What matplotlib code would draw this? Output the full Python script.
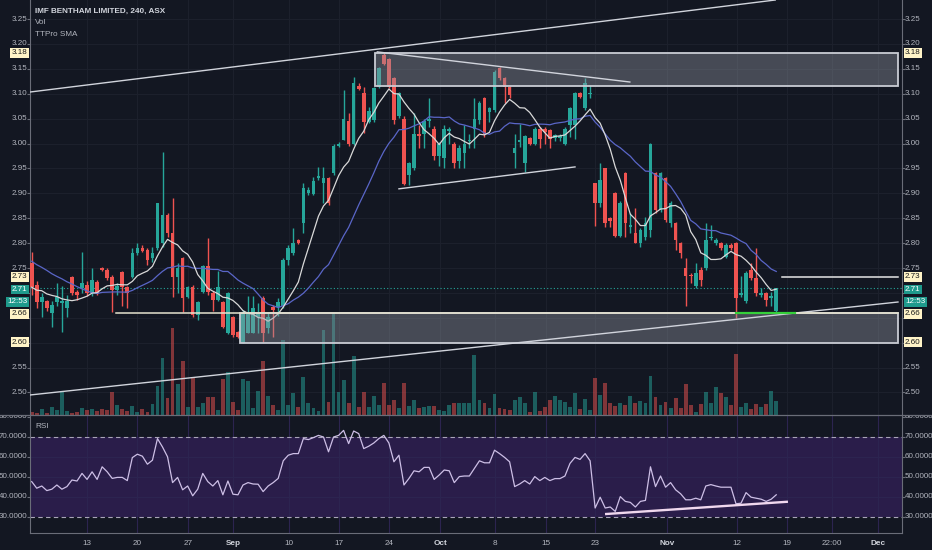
import numpy as np
import matplotlib
matplotlib.use("Agg")
import matplotlib.pyplot as plt
from matplotlib.patches import Rectangle
from matplotlib.lines import Line2D
from matplotlib.transforms import Bbox, TransformedBbox

plt.rcParams['font.family'] = ['Liberation Sans', 'DejaVu Sans']

# ---------------- data ----------------
opens = [2.761, 2.716, 2.681, 2.683, 2.660, 2.681, 2.680, 2.669, 2.731, 2.701,
         2.709, 2.716, 2.699, 2.721, 2.750, 2.746, 2.731, 2.705, 2.741, 2.712,
         2.731, 2.780, 2.790, 2.786, 2.770, 2.790, 2.800, 2.856, 2.821, 2.731,
         2.770, 2.691, 2.711, 2.656, 2.701, 2.754, 2.699, 2.685, 2.681, 2.620,
         2.651, 2.622, 2.600, 2.620, 2.620, 2.651, 2.689, 2.629, 2.671, 2.671,
         2.673, 2.766, 2.781, 2.806, 2.840, 2.900, 2.899, 2.930, 2.920, 2.930,
         2.940, 2.995, 3.008, 3.046, 2.999, 3.116, 3.101, 3.044, 3.047, 3.114,
         3.178, 3.169, 3.131, 3.055, 3.049, 2.937, 2.950, 3.020, 3.019, 3.046,
         3.030, 2.974, 2.970, 3.026, 3.000, 2.964, 2.980, 3.006, 3.030, 3.047,
         3.091, 3.064, 3.067, 3.151, 3.131, 3.114, 2.980, 3.004, 2.960, 3.011,
         3.000, 3.030, 3.030, 3.027, 3.012, 3.012, 3.000, 3.037, 3.037, 3.101,
         3.071, 3.100, 2.920, 2.880, 2.950, 2.850, 2.900, 2.814, 2.940, 2.833,
         2.820, 2.800, 2.813, 2.826, 2.940, 2.866, 2.930, 2.840, 2.840, 2.800,
         2.750, 2.736, 2.713, 2.746, 2.750, 2.810, 2.800, 2.800, 2.773, 2.796,
         2.800, 2.696, 2.683, 2.746, 2.730, 2.696, 2.700, 2.690, 2.663]
highs = [2.783, 2.723, 2.700, 2.686, 2.683, 2.720, 2.713, 2.696, 2.733, 2.706,
         2.783, 2.723, 2.750, 2.726, 2.752, 2.750, 2.736, 2.720, 2.743, 2.713,
         2.790, 2.800, 2.796, 2.790, 2.793, 2.881, 2.983, 2.860, 2.890, 2.760,
         2.773, 2.713, 2.716, 2.683, 2.756, 2.810, 2.703, 2.743, 2.683, 2.701,
         2.653, 2.624, 2.666, 2.693, 2.693, 2.679, 2.693, 2.659, 2.676, 2.690,
         2.770, 2.796, 2.830, 2.808, 2.920, 2.913, 2.933, 2.953, 2.953, 2.933,
         3.000, 3.003, 3.108, 3.061, 3.134, 3.121, 3.114, 3.074, 3.114, 3.154,
         3.181, 3.171, 3.134, 3.104, 3.055, 2.963, 3.061, 3.037, 3.049, 3.091,
         3.036, 3.004, 3.037, 3.034, 3.004, 2.997, 3.037, 3.020, 3.091, 3.085,
         3.093, 3.074, 3.148, 3.153, 3.133, 3.116, 3.020, 3.040, 3.017, 3.014,
         3.034, 3.034, 3.033, 3.030, 3.020, 3.020, 3.034, 3.074, 3.104, 3.103,
         3.131, 3.117, 2.920, 2.960, 2.951, 2.853, 2.903, 2.885, 2.943, 2.860,
         2.870, 2.830, 2.853, 3.001, 2.943, 2.943, 2.933, 2.884, 2.843, 2.803,
         2.770, 2.740, 2.760, 2.753, 2.840, 2.836, 2.810, 2.803, 2.800, 2.800,
         2.803, 2.733, 2.743, 2.760, 2.790, 2.709, 2.702, 2.702, 2.710]
lows = [2.696, 2.669, 2.651, 2.663, 2.632, 2.673, 2.622, 2.651, 2.696, 2.686,
        2.700, 2.693, 2.693, 2.696, 2.743, 2.726, 2.662, 2.696, 2.673, 2.669,
        2.729, 2.776, 2.783, 2.756, 2.763, 2.786, 2.793, 2.813, 2.691, 2.699,
        2.662, 2.689, 2.652, 2.646, 2.700, 2.696, 2.663, 2.683, 2.629, 2.618,
        2.612, 2.609, 2.599, 2.619, 2.619, 2.619, 2.602, 2.619, 2.612, 2.653,
        2.669, 2.756, 2.776, 2.798, 2.820, 2.897, 2.897, 2.927, 2.880, 2.877,
        2.937, 2.993, 3.007, 2.994, 2.997, 3.107, 3.021, 3.041, 3.044, 3.111,
        3.158, 3.111, 3.040, 3.051, 2.917, 2.917, 2.947, 2.990, 2.990, 3.033,
        2.967, 2.954, 2.950, 3.000, 2.950, 2.950, 2.950, 2.990, 2.990, 3.040,
        3.014, 3.044, 3.064, 3.128, 3.081, 3.091, 2.950, 2.992, 2.943, 2.997,
        2.997, 2.990, 3.000, 2.990, 3.006, 3.005, 2.997, 3.014, 3.010, 3.091,
        3.067, 3.091, 2.835, 2.873, 2.833, 2.833, 2.813, 2.813, 2.813, 2.820,
        2.800, 2.793, 2.806, 2.813, 2.860, 2.863, 2.843, 2.833, 2.786, 2.770,
        2.673, 2.720, 2.709, 2.713, 2.746, 2.806, 2.796, 2.787, 2.770, 2.786,
        2.649, 2.692, 2.679, 2.726, 2.693, 2.692, 2.673, 2.673, 2.661]
closes = [2.712, 2.681, 2.692, 2.669, 2.676, 2.692, 2.683, 2.683, 2.699, 2.696,
          2.719, 2.699, 2.726, 2.699, 2.745, 2.730, 2.706, 2.713, 2.712, 2.699,
          2.781, 2.790, 2.785, 2.766, 2.781, 2.881, 2.856, 2.820, 2.731, 2.751,
          2.689, 2.711, 2.656, 2.681, 2.754, 2.701, 2.685, 2.711, 2.632, 2.699,
          2.616, 2.611, 2.659, 2.659, 2.669, 2.660, 2.620, 2.651, 2.666, 2.681,
          2.766, 2.790, 2.800, 2.800, 2.910, 2.907, 2.925, 2.935, 2.930, 2.880,
          2.995, 3.000, 3.049, 2.999, 3.121, 3.109, 3.044, 3.066, 3.111, 3.151,
          3.160, 3.114, 3.047, 3.101, 2.919, 2.960, 3.019, 3.015, 3.046, 3.049,
          2.974, 3.000, 3.030, 3.030, 2.960, 2.990, 3.000, 3.008, 3.050, 3.081,
          3.020, 3.071, 3.144, 3.131, 3.114, 3.097, 2.990, 3.008, 3.015, 3.000,
          3.030, 3.010, 3.024, 3.010, 3.017, 3.016, 3.030, 3.071, 3.101, 3.094,
          3.121, 3.102, 2.880, 2.927, 2.840, 2.845, 2.814, 2.881, 2.840, 2.836,
          2.800, 2.826, 2.840, 3.000, 2.866, 2.940, 2.846, 2.880, 2.806, 2.780,
          2.733, 2.733, 2.740, 2.726, 2.806, 2.813, 2.806, 2.790, 2.796, 2.790,
          2.689, 2.700, 2.740, 2.730, 2.700, 2.700, 2.686, 2.694, 2.710]
volumes = [3, 2, 6, 2, 8, 5, 24, 4, 2, 3,
           7, 5, 6, 4, 6, 5, 23, 10, 6, 4,
           9, 3, 6, 3, 11, 29, 57, 17, 87, 31,
           54, 8, 37, 8, 12, 18, 18, 5, 36, 43,
           13, 5, 36, 34, 7, 24, 54, 19, 10, 5,
           75, 10, 22, 8, 38, 12, 7, 4, 85, 13,
           101, 23, 35, 12, 59, 8, 23, 8, 19, 10,
           32, 10, 15, 7, 32, 9, 15, 7, 8, 9,
           9, 5, 4, 10, 12, 12, 12, 12, 60, 15,
           12, 7, 21, 7, 6, 5, 15, 18, 12, 3,
           23, 4, 8, 15, 19, 15, 13, 8, 22, 6,
           16, 5, 37, 20, 32, 12, 9, 12, 10, 19,
           12, 14, 12, 39, 18, 10, 13, 7, 17, 7,
           31, 10, 3, 11, 23, 12, 28, 22, 18, 10,
           61, 8, 12, 6, 11, 8, 11, 24, 14]
rsi = [47.7, 44.4, 45.5, 43.2, 43.9, 46.0, 43.9, 45.2, 48.5, 48.0,
       51.8, 48.8, 52.6, 48.8, 55.1, 52.6, 49.3, 49.8, 49.8, 48.2,
       59.7, 61.4, 60.4, 56.4, 58.4, 69.2, 65.0, 60.1, 47.2, 49.8,
       43.6, 45.5, 40.6, 43.9, 51.8, 47.7, 45.5, 48.2, 41.1, 48.0,
       41.4, 41.1, 46.0, 47.2, 46.5, 46.4, 42.7, 45.5, 47.2, 49.3,
       58.1, 60.9, 61.7, 61.7, 69.2, 68.7, 69.7, 70.8, 70.0, 62.6,
       70.0, 70.8, 73.3, 66.7, 73.0, 71.7, 64.2, 65.4, 67.0, 69.2,
       70.8, 67.0, 57.6, 60.9, 46.0, 49.3, 53.1, 52.6, 54.8, 54.8,
       48.8, 51.0, 53.5, 53.1, 47.2, 50.2, 50.5, 50.5, 54.3, 58.1,
       57.1, 57.1, 63.4, 61.7, 59.8, 57.6, 45.2, 46.5, 48.2, 46.5,
       50.2, 48.2, 49.8, 48.2, 49.2, 49.2, 50.5, 56.8, 59.8, 58.8,
       61.7, 58.1, 34.5, 39.9, 34.5, 35.0, 32.8, 40.2, 37.8, 37.3,
       35.0, 37.8, 38.3, 55.1, 45.2, 50.5, 44.9, 47.2, 43.6, 41.6,
       38.6, 38.6, 39.4, 38.6, 45.5, 46.2, 45.5, 44.9, 44.9, 44.9,
       36.6, 36.9, 42.2, 39.9, 39.4, 38.9, 37.8, 38.9, 41.1]
# closes before the visible window (estimated from where the averages start)
prior_closes = [2.82, 2.80, 2.79, 2.81, 2.80, 2.78, 2.80, 2.79, 2.80, 2.81,
                2.78, 2.80, 2.73, 2.70, 2.72, 2.70, 2.71, 2.72, 2.70]

price_ticks = [2.50, 2.55, 2.60, 2.65, 2.70, 2.75, 2.80, 2.85, 2.90,
               2.95, 3.00, 3.05, 3.10, 3.15, 3.20, 3.25]
hidden_ticks = [2.65, 2.70]   # covered by the price boxes
rsi_ticks = [30, 40, 50, 60, 70]
date_labels = ['13', '20', '27', 'Sep', '10', '17', '24', 'Oct', '8', '15',
               '23', 'Nov', '12', '19', '22:00', 'Dec']
date_pos = [11.05, 21.0, 31.1, 40.0, 51.2, 61.1, 71.1, 81.2, 92.1, 102.2,
            112.0, 126.3, 140.2, 150.2, 159.1, 168.3]
month_labels = ['Sep', 'Oct', 'Nov', 'Dec']

box_texts = ['3.18', '2.73', '2.71', '12:53', '2.66', '2.60']
box_prices = [3.182, 2.732, 2.707, 2.682, 2.658, 2.601]
box_kind = ['level', 'level', 'last', 'last', 'level', 'level']

# drawings (bar index, price)
upper_trend = ([-0.34, 147.8], [3.1034, 3.2882])
lower_trend = ([-0.34, 172.2], [2.4950, 2.6817])
desc_line = ([68.7, 118.9], [3.184, 3.1235])
channel_line = ([73.0, 108.0], [2.909, 2.953])
top_zone = (68.3, 172.2, 3.115, 3.182)
bottom_zone = (41.4, 172.2, 2.600, 2.660)
support_line = (16.8, 172.2, 2.660)
green_line = (140.1, 151.8, 2.660)
resist_line = (149.2, 172.2, 2.732)
rsi_trend = ([114.2, 150.1], [31.5, 37.6])

# ---------------- style ----------------
BG = '#131722'
GRID = '#1c202c'
TXT = '#b2b5be'
UP = '#26a69a'
DN = '#ef5350'
BORDER = '#6a6d78'
CREAM = '#fff4c8'

FW, FH = 932.0, 550.0
L, R = 30, 902
fig = plt.figure(figsize=(FW / 100, FH / 100), dpi=100)
fig.patch.set_facecolor(BG)

ax = fig.add_axes([L / FW, 1 - 415 / FH, (R - L) / FW, 415 / FH])
rx = fig.add_axes([L / FW, 1 - 533 / FH, (R - L) / FW, 118 / FH])
XL = (-0.34, 173.0)
for a in (ax, rx):
    a.set_facecolor(BG)
    a.set_xlim(*XL)
    a.set_xticks([])
    for s in a.spines.values():
        s.set_visible(False)
ax.set_ylim(2.4548, 3.2882)
rx.set_ylim(22, 81)

o = np.array(opens); h = np.array(highs); lo = np.array(lows); c = np.array(closes)
x = np.arange(len(c))
up = c >= o
cols = np.where(up, UP, DN)

# grid
for d in date_pos:
    ax.axvline(d, color=GRID, lw=0.8, zorder=0)
for p in price_ticks:
    ax.axhline(p, color=GRID, lw=0.8, zorder=0)

# volume (pixels -> price units of the pane)
ybot = ax.get_ylim()[0]
PX_PER_UNIT = 415 / (ax.get_ylim()[1] - ax.get_ylim()[0])
ax.bar(x, np.array(volumes) / PX_PER_UNIT, bottom=ybot, width=0.76,
       color=cols, alpha=0.5, zorder=1, linewidth=0)

# current price line
ax.axhline(c[-1], color=UP, lw=0.8, ls=(0, (1, 2)), zorder=2)

# candles
ax.vlines(x, lo, h, colors=cols, lw=1.0, zorder=3)
ax.bar(x, np.maximum(np.abs(c - o), 0.0016), bottom=np.minimum(o, c),
       width=0.72, color=cols, zorder=4, linewidth=0)

# SMAs
allc = np.array(prior_closes + closes)
def sma(n):
    v = np.convolve(allc, np.ones(n) / n, mode='valid')
    return v[-len(closes):]
ax.plot(x, sma(20), color='#5a66c8', lw=0.9, zorder=5)
ax.plot(x, sma(8), color='#d9d9d9', lw=0.9, zorder=5)

# zones
for (x0, x1, p0, p1) in (top_zone, bottom_zone):
    ax.add_patch(Rectangle((x0, p0), x1 - x0, p1 - p0,
                           facecolor=(0.58, 0.6, 0.64, 0.40),
                           edgecolor='#c9ccd4', lw=1.3, zorder=6))

# trend lines
for xs, ps in (upper_trend, lower_trend, desc_line, channel_line):
    ax.plot(xs, ps, color='#d1d4dc', lw=1.0, zorder=7)
ax.plot([support_line[0], support_line[1]], [support_line[2]] * 2,
        color='#e6e3cf', lw=1.1, zorder=7)
ax.plot([resist_line[0], resist_line[1]], [resist_line[2]] * 2,
        color='#e6e6e6', lw=1.1, zorder=7)
ax.plot([green_line[0], green_line[1]], [green_line[2]] * 2,
        color='#35d03a', lw=1.6, zorder=8)

# ---------------- RSI pane ----------------
rx.axhspan(30, 70, color='#2a1d4a', zorder=0.5, lw=0)
for d in date_pos:
    rx.axvline(d, color='#2c2450', lw=0.8, zorder=0.6)
for r in [40, 50, 60]:
    rx.axhline(r, color='#2c2450', lw=0.8, zorder=0.6)
for lvl in (30, 70):
    rx.axhline(lvl, color='#a9a5b8', lw=0.8, ls=(0, (4, 3)), zorder=1)
rx.plot(x, rsi, color='#cdbfe6', lw=0.9, zorder=3)
rx.plot(rsi_trend[0], rsi_trend[1], color='#f0d8ee', lw=1.7, zorder=4)

# borders
ax.spines['left'].set_visible(True); ax.spines['right'].set_visible(True)
rx.spines['left'].set_visible(True); rx.spines['right'].set_visible(True)
rx.spines['bottom'].set_visible(True)
for a in (ax, rx):
    for s in a.spines.values():
        s.set_color(BORDER); s.set_linewidth(0.8)
ax.set_yticks(price_ticks)
ax.tick_params(axis='y', left=True, right=True, labelleft=False, labelright=False,
               length=2, color=BORDER, width=0.8)
rx.set_yticks(rsi_ticks + [80])
rx.tick_params(axis='y', left=True, right=True, labelleft=False, labelright=False,
               length=2, color=BORDER, width=0.8)
fig.add_artist(Line2D([0, 1], [1 - 415 / FH] * 2, transform=fig.transFigure,
                      color=BORDER, lw=0.9))

# ---------------- labels ----------------
FS = 5.8
lx = -2.5 / (R - L)
rxpos = 1 + 3.0 / (R - L)
ptr = ax.get_yaxis_transform()
for p in price_ticks:
    if p in hidden_ticks:
        continue
    ax.text(lx, p, f"{p:.2f}", transform=ptr, ha='right', va='center',
            fontsize=FS, color=TXT, clip_on=False, zorder=15)
    ax.text(rxpos, p, f"{p:.2f}", transform=ptr, ha='left', va='center',
            fontsize=FS, color=TXT, clip_on=False, zorder=15)
rtr = rx.get_yaxis_transform()
for r in rsi_ticks:
    rx.text(lx, r, f"{r:.4f}", transform=rtr, ha='right', va='center',
            fontsize=FS, color=TXT, clip_on=False, zorder=15)
    rx.text(rxpos, r, f"{r:.4f}", transform=rtr, ha='left', va='center',
            fontsize=FS, color=TXT, clip_on=False, zorder=15)
clipbox = TransformedBbox(Bbox([[0, 0], [1, 1 - 416 / FH]]), fig.transFigure)
for xx, ha in ((lx, 'right'), (rxpos, 'left')):
    t = fig.text(xx, 80, "80.0000", transform=rtr, ha=ha, va='center',
                 fontsize=FS, color=TXT)
    t.set_clip_box(clipbox)
    t.set_clip_on(True)

for txt, p, kind in zip(box_texts, box_prices, box_kind):
    fc = CREAM if kind == 'level' else '#1f9a8c'
    tc = '#1a1a1a' if kind == 'level' else '#ffffff'
    for xx, ha in ((lx, 'right'), (rxpos, 'left')):
        ax.text(xx, p, txt, transform=ptr, ha=ha, va='center', fontsize=FS,
                color=tc, clip_on=False, zorder=20,
                bbox=dict(boxstyle='square,pad=0.17', fc=fc, ec='none'))

xtr = rx.get_xaxis_transform()
for lab, d in zip(date_labels, date_pos):
    bold = lab in month_labels
    rx.text(d, -10.5 / 118, lab, transform=xtr, ha='center', va='center',
            fontsize=5.9, color='#d1d4dc' if bold else TXT,
            fontweight='bold' if bold else 'normal', clip_on=False)

fig.text(35 / FW, 1 - 11 / FH, "IMF BENTHAM LIMITED, 240, ASX", ha='left',
         va='center', fontsize=5.9, color='#d1d4dc', fontweight='bold')
fig.text(35 / FW, 1 - 22.5 / FH, "Vol", ha='left', va='center', fontsize=5.9,
         color=TXT)
fig.text(35 / FW, 1 - 34 / FH, "TTPro SMA", ha='left', va='center',
         fontsize=5.9, color=TXT)
fig.text(35 / FW, 1 - 427 / FH, "RSI", ha='left', va='center', fontsize=5.9,
         color=TXT)

fig.savefig("out.png", dpi=100, facecolor=BG)
